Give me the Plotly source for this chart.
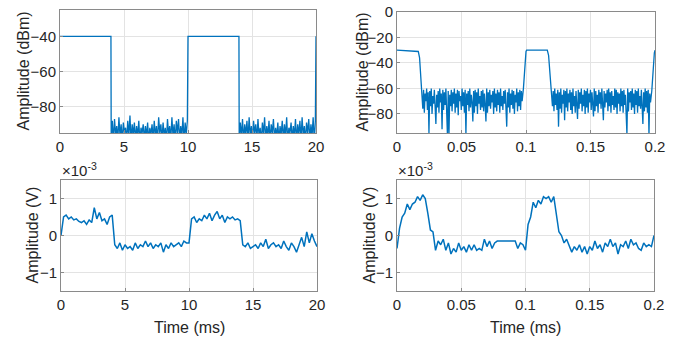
import numpy as np
import plotly.graph_objects as go

# ---------------- data ----------------
# Top-left: spectrum-like amplitude (dBm) vs time (ms)
tl_edges = [0, 4, 10, 14, 20]
tl_on_level = -40
tl_noise1 = [-98,-88,-100,-87,-96,-91,-99,-86,-97,-90,-100,-89,-95,-92,-99,-88,-97,-85,-100,-90,
             -96,-89,-99,-91,-97,-88,-100,-92,-95,-90,-99,-91,-97,-89,-100,-92,-96,-90,-99,-88,
             -97,-91,-100,-86,-95,-90,-99,-89,-97,-92,-100,-87,-96,-91,-99,-86,-97,-90,-100,-88,
             -95,-87,-99,-91,-97,-86,-100,-89,-96,-88]
tl_noise2 = [-99,-89,-97,-87,-100,-90,-96,-88,-99,-86,-97,-91,-100,-88,-95,-90,-99,-87,-97,-92,
             -100,-89,-96,-86,-99,-91,-97,-88,-100,-90,-95,-87,-99,-92,-97,-89,-100,-91,-96,-88,
             -99,-90,-97,-86,-100,-92,-95,-89,-99,-91,-97,-87,-100,-90,-96,-88,-99,-86,-97,-91,
             -100,-89,-95,-87,-99,-90,-97,-86,-100,-88]

# Top-right: amplitude (dBm) vs time (ms)
tr_on_level = -30
tr_fall1_t = [0.0165, 0.0175, 0.0185, 0.0195]
tr_fall1_v = [-31, -36, -50, -64]
tr_noise1_span = [0.0200, 0.0970]
tr_noise1 = [-76,-61,-79,-64,-70,-60,-77,-63,-95,-62,
             -74,-60,-80,-66,-72,-61,-78,-88,-65,-75,
             -62,-79,-60,-71,-64,-92,-61,-77,-63,-73,
             -60,-80,-97,-62,-96,-65,-74,-61,-78,-63,
             -72,-60,-79,-64,-75,-61,-81,-62,-70,-66,
             -77,-60,-74,-63,-79,-61,-96,-64,-73,-62,
             -78,-60,-75,-65,-71,-86,-62,-79,-61,-74,
             -63,-80,-60,-72,-66,-77,-62,-75,-61,-78,
             -64,-73,-86,-60,-79,-63,-74,-61,-76,-65,
             -71,-62,-80,-60,-75,-64,-78,-61,-73,-63,
             -79,-60,-74,-66,-77,-62,-72,-61,-78,-90,
             -63,-75,-60,-79,-64,-73,-61,-76,-62,-80,
             -65,-71,-60,-78,-63,-74,-61,-77,-62,-70]
tr_rise1_t = [0.0980, 0.0990, 0.1000]
tr_rise1_v = [-60, -42, -31]
tr_on2_span = [0.1005, 0.1165]
tr_fall2_t = [0.1175, 0.1185, 0.1195]
tr_fall2_v = [-34, -48, -63]
tr_noise2_span = [0.1205, 0.1965]
tr_noise2 = [-74,-62,-78,-60,-73,-64,-77,-61,-90,-63,
             -76,-60,-79,-65,-72,-61,-85,-62,-75,-60,
             -78,-64,-71,-61,-77,-63,-80,-60,-74,-66,
             -79,-62,-73,-84,-61,-76,-63,-72,-60,-78,
             -65,-74,-61,-80,-62,-75,-60,-79,-64,-71,
             -61,-77,-63,-73,-82,-60,-78,-62,-74,-65,
             -79,-61,-72,-63,-76,-60,-80,-85,-62,-75,
             -64,-71,-61,-78,-60,-74,-63,-79,-62,-73,
             -66,-77,-60,-75,-61,-80,-63,-72,-64,-78,
             -60,-74,-62,-79,-61,-73,-65,-76,-96,-60,
             -78,-63,-71,-62,-77,-60,-75,-64,-80,-61,
             -73,-62,-79,-60,-74,-66,-76,-61,-72,-88,
             -63,-78,-60,-75,-62,-79,-61,-97,-64,-71]
tr_rise2_t = [0.1975, 0.1985, 0.1995, 0.2000]
tr_rise2_v = [-62, -45, -32, -30]

# Bottom-left: amplitude (x1e-3 V) vs time (ms), sampled every 0.2 ms
bl_span = [0, 20]
bl_vals = [0.0, 0.5, 0.55, 0.45, 0.5, 0.42, 0.45, 0.38, 0.35, 0.4,
           0.3, 0.42, 0.35, 0.75, 0.45, 0.62, 0.4, 0.45, 0.3, 0.5,
           0.55, -0.25, -0.35, -0.2, -0.4, -0.25, -0.35, -0.3, -0.4, -0.2,
           -0.35, -0.25, -0.3, -0.15, -0.3, -0.2, -0.35, -0.25, -0.3, -0.2,
           -0.45, -0.25, -0.35, -0.2, -0.3, -0.25, -0.2, -0.3, -0.15, -0.2,
           -0.2, 0.45, 0.5, 0.35, 0.45, 0.4, 0.55, 0.45, 0.6, 0.4,
           0.55, 0.65, 0.45, 0.55, 0.35, 0.5, 0.45, 0.5, 0.42, 0.45,
           0.4, -0.25, -0.3, -0.2, -0.35, -0.3, -0.25, -0.35, -0.2, -0.3,
           -0.1, -0.35, -0.25, -0.2, -0.3, -0.25, -0.35, -0.15, -0.3, -0.4,
           -0.2, -0.3, -0.45, -0.25, -0.05, -0.3, 0.1, -0.2, 0.05, -0.15,
           -0.3]

# Bottom-right: amplitude (x1e-3 V) vs time (ms), sampled every 0.002 ms
br_span = [0, 0.2]
br_vals = [-0.35, 0.2, 0.5, 0.6, 0.85, 0.7, 0.85, 0.9, 1.05, 0.95,
           1.1, 1.0, 0.6, 0.15, 0.1, -0.4, -0.15, -0.25, -0.1, -0.4,
           -0.2, -0.5, -0.35, -0.45, -0.2, -0.4, -0.3, -0.45, -0.25, -0.4,
           -0.25, -0.4, -0.35, -0.4, -0.1, -0.3, -0.15, -0.35, -0.2, -0.15,
           -0.15, -0.15, -0.15, -0.15, -0.15, -0.15, -0.15, -0.35, -0.2, -0.25,
           -0.4, 0.3, 0.5, 0.9, 0.75, 0.95, 0.85, 1.05, 1.0, 1.05,
           0.9, 1.05, 0.5, 0.1, 0.0, -0.2, -0.1, -0.3, -0.45, -0.3,
           -0.4, -0.25, -0.45, -0.3, -0.5, -0.3, -0.4, -0.15, -0.35, -0.25,
           -0.45, -0.2, -0.3, -0.1, -0.3, -0.2, -0.5, -0.25, -0.3, -0.15,
           -0.35, -0.1, -0.25, -0.2, -0.35, -0.4, -0.2, -0.3, -0.25, -0.3,
           0.0]

tl_xticks = [0, 5, 10, 15, 20]
tl_yticks = [-40, -60, -80]
tr_xticks = [0, 0.05, 0.1, 0.15, 0.2]
tr_xlabels = ["0", "0.05", "0.1", "0.15", "0.2"]
tr_yticks = [0, -20, -40, -60, -80]
b_yticks = [-1, 0, 1]

# ---------------- build traces ----------------
tl_x = ([tl_edges[0], tl_edges[1] - 0.02]
        + list(np.linspace(tl_edges[1], tl_edges[2] - 0.05, len(tl_noise1)))
        + [tl_edges[2], tl_edges[3] - 0.02]
        + list(np.linspace(tl_edges[3], tl_edges[4] - 0.05, len(tl_noise2)))
        + [tl_edges[4]])
tl_y = ([tl_on_level, tl_on_level] + tl_noise1 + [tl_on_level, tl_on_level]
        + tl_noise2 + [tl_on_level])

tr_x = ([0.0] + tr_fall1_t
        + list(np.linspace(tr_noise1_span[0], tr_noise1_span[1], len(tr_noise1)))
        + tr_rise1_t + tr_on2_span + tr_fall2_t
        + list(np.linspace(tr_noise2_span[0], tr_noise2_span[1], len(tr_noise2)))
        + tr_rise2_t)
tr_y = ([tr_on_level] + tr_fall1_v + tr_noise1 + tr_rise1_v
        + [tr_on_level, tr_on_level] + tr_fall2_v + tr_noise2 + tr_rise2_v)

bl_x = np.linspace(bl_span[0], bl_span[1], len(bl_vals))
br_x = np.linspace(br_span[0], br_span[1], len(br_vals))

W, H = 681, 341
def dx(a, b):
    return [a / W, b / W]
def dy(top, bottom):
    return [1 - bottom / H, 1 - top / H]

line_color = "#0072BD"
fig = go.Figure()
fig.add_trace(go.Scatter(x=tl_x, y=tl_y, mode="lines", line=dict(color=line_color, width=1.3),
                         xaxis="x", yaxis="y", showlegend=False))
fig.add_trace(go.Scatter(x=tr_x, y=tr_y, mode="lines", line=dict(color=line_color, width=1.3),
                         xaxis="x2", yaxis="y2", showlegend=False))
fig.add_trace(go.Scatter(x=bl_x, y=bl_vals, mode="lines", line=dict(color=line_color, width=1.5),
                         xaxis="x3", yaxis="y3", showlegend=False))
fig.add_trace(go.Scatter(x=br_x, y=br_vals, mode="lines", line=dict(color=line_color, width=1.5),
                         xaxis="x4", yaxis="y4", showlegend=False))

tick_font = dict(family="Liberation Sans, Arial, sans-serif", size=15, color="#262626")
axcommon = dict(showline=True, linecolor="#8a8a8a", linewidth=1, mirror=True,
                showgrid=True, gridcolor="#e3e3e3", gridwidth=1, zeroline=False,
                ticks="inside", ticklen=3, tickcolor="#8a8a8a", tickfont=tick_font,
                automargin=False)

fig.update_layout(
    template="none",
    width=W, height=H, margin=dict(l=0, r=0, t=0, b=0, pad=0),
    paper_bgcolor="white", plot_bgcolor="white",
    xaxis=dict(domain=dx(60, 316), range=[0, 20], tickvals=tl_xticks, anchor="y", **axcommon),
    yaxis=dict(domain=dy(10, 133), range=[-95, -25], tickvals=tl_yticks, anchor="x", **axcommon),
    xaxis2=dict(domain=dx(397, 655), range=[0, 0.2], tickvals=tr_xticks,
                ticktext=tr_xlabels, anchor="y2", **axcommon),
    yaxis2=dict(domain=dy(12, 133), range=[-95, 0], tickvals=tr_yticks, anchor="x2", **axcommon),
    xaxis3=dict(domain=dx(61, 317), range=[0, 20], tickvals=tl_xticks, anchor="y3", **axcommon),
    yaxis3=dict(domain=dy(180, 291), range=[-1.5, 1.5], tickvals=b_yticks, anchor="x3", **axcommon),
    xaxis4=dict(domain=dx(397, 654), range=[0, 0.2], tickvals=tr_xticks,
                ticktext=tr_xlabels, anchor="y4", **axcommon),
    yaxis4=dict(domain=dy(180, 291), range=[-1.5, 1.5], tickvals=b_yticks, anchor="x4", **axcommon),
)

lab_font = dict(family="Liberation Sans, Arial, sans-serif", size=16, color="#262626")
def ann(text, xpx, ypx, angle=0, xanchor="center", yanchor="middle", font=lab_font):
    fig.add_annotation(text=text, x=xpx / W, y=1 - ypx / H, xref="paper", yref="paper",
                       showarrow=False, textangle=angle, xanchor=xanchor, yanchor=yanchor,
                       font=font)

ann("Amplitude (dBm)", 23, 71.5, angle=-90)
ann("Amplitude (dBm)", 362, 72.5, angle=-90)
ann("Amplitude (V)", 32, 235.5, angle=-90)
ann("Amplitude (V)", 369, 235.5, angle=-90)
ann("Time (ms)", 189, 327)
ann("Time (ms)", 525.5, 327)
ann("×10<sup>-3</sup>", 60, 181, xanchor="left", yanchor="bottom", font=tick_font)
ann("×10<sup>-3</sup>", 396, 181, xanchor="left", yanchor="bottom", font=tick_font)

fig.write_html("out.html", config={"displayModeBar": False},
               post_script="document.body.style.margin='0';document.body.style.overflow='hidden';")
